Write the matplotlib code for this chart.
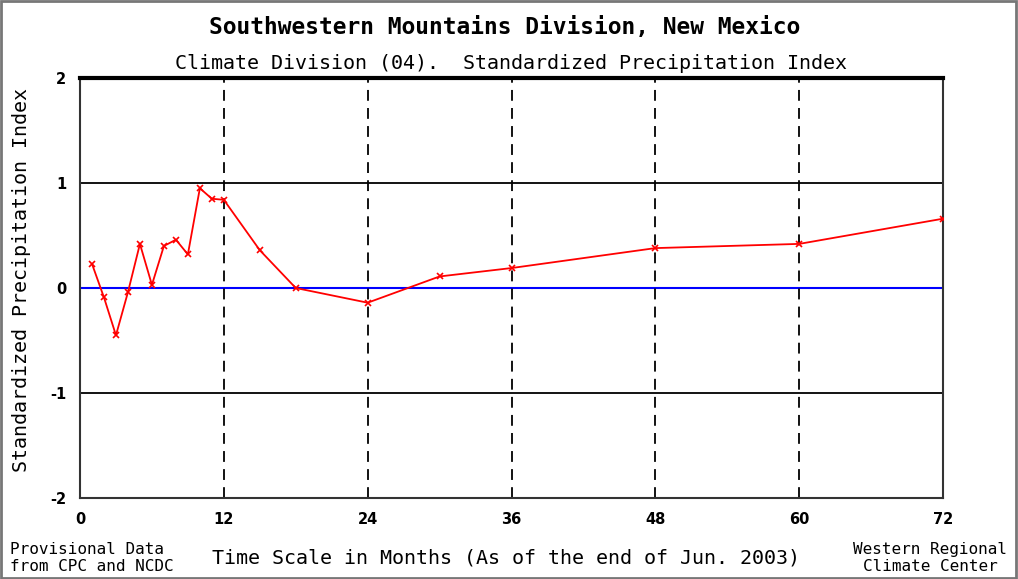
"""SPI chart for the Southwestern Mountains Division, New Mexico."""

import matplotlib
matplotlib.use("Agg")
import matplotlib.pyplot as plt
from matplotlib.patches import Rectangle

months = [1, 2, 3, 4, 5, 6, 7, 8, 9, 10, 11, 12, 15, 18, 24, 30, 36, 48, 60, 72]
spi = [0.23, -0.09, -0.45, -0.04, 0.42, 0.03, 0.40, 0.46, 0.32, 0.95,
       0.85, 0.84, 0.36, 0.00, -0.14, 0.11, 0.19, 0.38, 0.42, 0.66]
x_ticks = [0, 12, 24, 36, 48, 60, 72]
y_ticks = [-2, -1, 0, 1, 2]

mono = "DejaVu Sans Mono"
plt.rcParams["axes.unicode_minus"] = False

fig = plt.figure(figsize=(10.18, 5.79), dpi=100)
ax = fig.add_axes([80 / 1018, 1 - 498 / 579, 863 / 1018, 420 / 579])

ax.set_xlim(0, 72)
ax.set_ylim(-2, 2)

for y in (-1, 1):
    ax.axhline(y, color="black", lw=1.3, zorder=1)
ax.axhline(0, color="blue", lw=1.5, zorder=1)
for x in x_ticks[1:-1]:
    ax.axvline(x, color="black", lw=1.3, ls=(0, (6, 4)), zorder=1)

ax.plot(months, spi, color="red", lw=1.3, marker="x", ms=5, mew=1.2, zorder=3)

ax.set_xticks(x_ticks)
ax.set_yticks(y_ticks)
ax.tick_params(length=0, labelsize=10.5)
ax.tick_params(axis="x", pad=10)
ax.tick_params(axis="y", pad=10)
for lab in ax.get_xticklabels() + ax.get_yticklabels():
    lab.set_fontweight("semibold")

for side in ("left", "right", "bottom"):
    ax.spines[side].set_linewidth(1.5)
    ax.spines[side].set_color("#333333")
ax.spines["top"].set_linewidth(3)
ax.spines["top"].set_color("black")

ax.set_ylabel("Standardized Precipitation Index", family=mono, fontsize=14.4)
ax.yaxis.set_label_coords(-0.057, 0.52)

fig.text(0.496, 0.952, "Southwestern Mountains Division, New Mexico",
         ha="center", va="center", family=mono, fontsize=16.5, weight="bold")
fig.text(0.502, 0.891, "Climate Division (04).  Standardized Precipitation Index",
         ha="center", va="center", family=mono, fontsize=14.4)
fig.text(0.497, 0.036, "Time Scale in Months (As of the end of Jun. 2003)",
         ha="center", va="center", family=mono, fontsize=14.4)
fig.text(0.010, 0.036, "Provisional Data\nfrom CPC and NCDC", ha="left",
         va="center", family=mono, fontsize=11.5, linespacing=1.15)
fig.text(0.914, 0.036, "Western Regional\nClimate Center", ha="center",
         va="center", family=mono, fontsize=11.5, linespacing=1.15)

fig.patches.append(Rectangle((0.001, 0.002), 0.997, 0.996, fill=False,
                             ec="#777777", lw=2, transform=fig.transFigure))

fig.savefig("out.png", dpi=100)
